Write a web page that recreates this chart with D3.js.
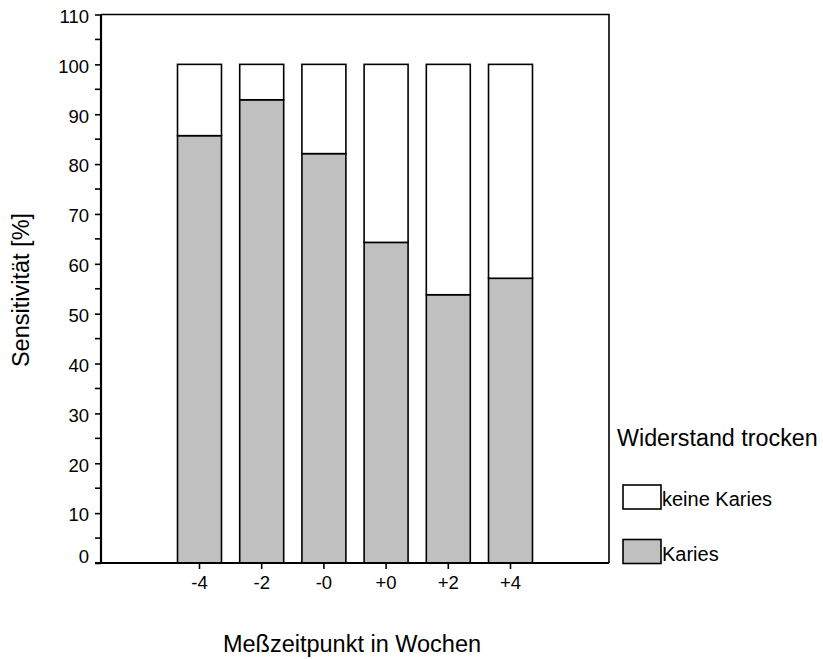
<!DOCTYPE html>
<html>
<head>
<meta charset="utf-8">
<script src="https://cdn.jsdelivr.net/npm/d3@7"></script>
<style>
  html, body { margin: 0; padding: 0; background: #fff; }
  svg { display: block; font-family: Arial, "Liberation Sans", sans-serif; }
</style>
</head>
<body>
<svg id="chart" width="823" height="659"></svg>
<script>
// Sensitivität je Messzeitpunkt (Widerstand trocken)
const zeitpunkte = ["-4", "-2", "-0", "+0", "+2", "+4"];
const karies = [85.7, 92.9, 82.1, 64.3, 53.8, 57.1];
const keineKaries = [14.3, 7.1, 17.9, 35.7, 46.2, 42.9];
const yMajorTicks = [0, 10, 20, 30, 40, 50, 60, 70, 80, 90, 100, 110];
const yMinorTicks = [5, 15, 25, 35, 45, 55, 65, 75, 85, 95, 105];
const serien = ["Karies", "keine Karies"];
const legendeTitel = "Widerstand trocken";

const svg = d3.select("#chart");
const plot = { left: 101, right: 609, top: 14.5, bottom: 563 };

const x = d3.scaleBand()
  .domain(zeitpunkte)
  .range([plot.left, plot.right])
  .paddingInner(0.293)
  .paddingOuter(1.23);

const y = d3.scaleLinear()
  .domain([0, 110])
  .range([plot.bottom, plot.top]);

const color = d3.scaleOrdinal().domain(serien).range(["#c0c0c0", "#ffffff"]);

// Stapel: Karies unten, keine Karies oben
const rows = zeitpunkte.map((z, i) => ({ zeit: z, "Karies": karies[i], "keine Karies": keineKaries[i] }));
const stacked = d3.stack().keys(serien)(rows);

svg.append("g")
  .selectAll("g")
  .data(stacked)
  .join("g")
  .attr("fill", d => color(d.key))
  .selectAll("rect")
  .data(d => d)
  .join("rect")
  .attr("x", d => x(d.data.zeit))
  .attr("width", x.bandwidth())
  .attr("y", d => y(d[1]))
  .attr("height", d => y(d[0]) - y(d[1]))
  .attr("stroke", "#000")
  .attr("stroke-width", 1.6);

// Rahmen oben und rechts
svg.append("path")
  .attr("d", `M${plot.left},${plot.top}H${plot.right}V${plot.bottom}`)
  .attr("fill", "none")
  .attr("stroke", "#000")
  .attr("stroke-width", 1.6);

// y-Achse
const yAxis = svg.append("g")
  .attr("transform", `translate(${plot.left},0)`)
  .call(d3.axisLeft(y).tickValues(yMajorTicks).tickSize(6).tickPadding(6).tickFormat(d3.format("d")));
yAxis.selectAll(".tick line").attr("stroke-width", 1.6);
yAxis.select(".domain").attr("stroke-width", 2.2).attr("d", `M0,${plot.top}V${plot.bottom}`);
yAxis.selectAll("text")
  .attr("font-size", 18.5)
  .attr("fill", "#000")
  .attr("dy", d => d === 0 ? "-0.05em" : "0.42em");

svg.append("g")
  .selectAll("line")
  .data(yMinorTicks)
  .join("line")
  .attr("x1", plot.left - 6)
  .attr("x2", plot.left)
  .attr("y1", d => y(d))
  .attr("y2", d => y(d))
  .attr("stroke", "#000")
  .attr("stroke-width", 1.6);

// x-Achse
const xAxis = svg.append("g")
  .attr("transform", `translate(0,${plot.bottom})`)
  .call(d3.axisBottom(x).tickSize(6).tickPadding(7).tickSizeOuter(0));
xAxis.select(".domain").attr("stroke-width", 2.2).attr("d", `M${plot.left - 6},0H${plot.right}`);
xAxis.selectAll(".tick line").attr("stroke-width", 1.6);
xAxis.selectAll("text").attr("font-size", 18.5).attr("fill", "#000");

// Achsentitel
svg.append("text")
  .attr("x", 352)
  .attr("y", 652)
  .attr("text-anchor", "middle")
  .attr("font-size", 23.5)
  .text("Meßzeitpunkt in Wochen");

svg.append("text")
  .attr("transform", "translate(29,290) rotate(-90)")
  .attr("text-anchor", "middle")
  .attr("font-size", 23.5)
  .text("Sensitivität [%]");

// Legende
const legend = svg.append("g");
legend.append("text")
  .attr("x", 617)
  .attr("y", 446)
  .attr("font-size", 23.3)
  .text(legendeTitel);

const legendItems = ["keine Karies", "Karies"];
legend.selectAll("g.item")
  .data(legendItems)
  .join("g")
  .attr("class", "item")
  .attr("transform", (d, i) => `translate(623,${485 + i * 54.5})`)
  .each(function (d) {
    const g = d3.select(this);
    g.append("rect")
      .attr("width", 38)
      .attr("height", 24)
      .attr("fill", color(d))
      .attr("stroke", "#000")
      .attr("stroke-width", 1.6);
    g.append("text")
      .attr("x", 39)
      .attr("y", 21)
      .attr("font-size", 20)
      .text(d);
  });
</script>
</body>
</html>
